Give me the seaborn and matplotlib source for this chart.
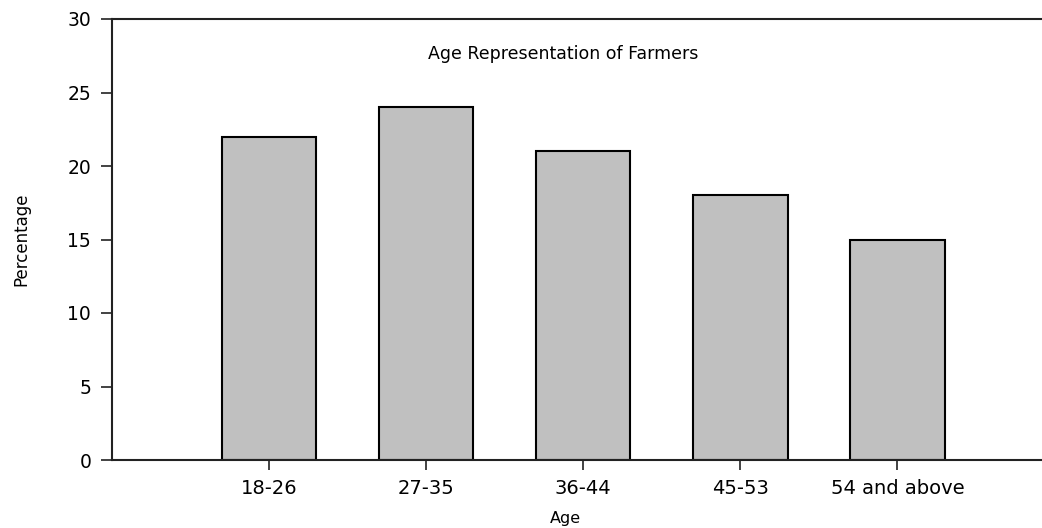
import matplotlib
matplotlib.use("Agg")
import matplotlib.pyplot as plt
import seaborn as sns
import pandas as pd

# Dados
idades = ['18-26', '27-35', '36-44', '45-53', '54 and above']
percentagens = [22, 24, 21, 18, 15]

df = pd.DataFrame({'Age': idades, 'Percentage': percentagens})

sns.set_style('white')
plt.rcParams['font.family'] = ['DejaVu Sans']
plt.rcParams['text.color'] = 'black'
plt.rcParams['axes.labelcolor'] = 'black'
plt.rcParams['xtick.color'] = 'black'
plt.rcParams['ytick.color'] = 'black'

fig = plt.figure(figsize=(10.42, 5.28), dpi=100)
ax = fig.add_axes([112 / 1042, 1 - 460 / 528, 930 / 1042, 441 / 528])

sns.barplot(data=df, x='Age', y='Percentage', color='#c0c0c0', width=0.6,
            edgecolor='black', linewidth=1.5, saturation=1, ax=ax)

ax.set_xlim(-1.0, 4.92)
ax.set_ylim(0, 30)
ax.set_yticks([0, 5, 10, 15, 20, 25, 30])

# Eixos
for s in ['left', 'bottom', 'top']:
    ax.spines[s].set_visible(True)
    ax.spines[s].set_color('#222222')
    ax.spines[s].set_linewidth(1.5)
ax.spines['right'].set_visible(False)

ax.tick_params(axis='y', direction='out', length=8, width=1.2, color='#222222',
               labelsize=13.5, pad=7, left=True)
ax.tick_params(axis='x', direction='out', length=7, width=1.2, color='#222222',
               labelsize=14, pad=7, bottom=True)

ax.set_xlabel('Age', fontsize=11.5)
ax.set_ylabel('Percentage', fontsize=12)
ax.xaxis.set_label_coords(0.488, -0.116)
ax.yaxis.set_label_coords(-0.088, 0.5)

ax.text(0.485, 0.92, 'Age Representation of Farmers', transform=ax.transAxes,
        ha='center', va='center', fontsize=12.5)

fig.savefig('out.png', dpi=100)
